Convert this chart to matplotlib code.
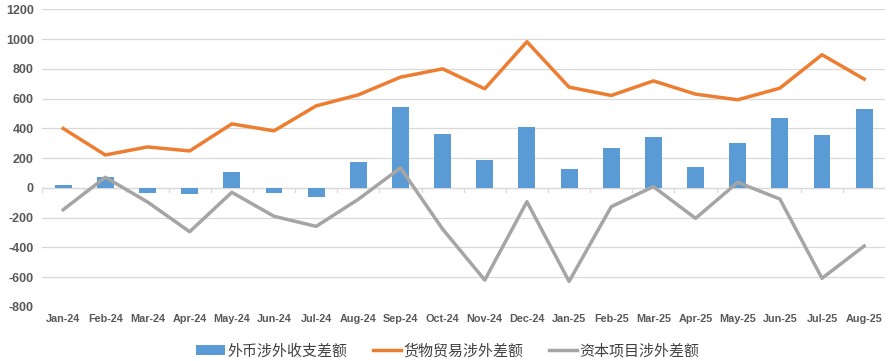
import matplotlib
matplotlib.use("Agg")
import matplotlib.pyplot as plt
import numpy as np

months = ["Jan-24", "Feb-24", "Mar-24", "Apr-24", "May-24", "Jun-24", "Jul-24",
          "Aug-24", "Sep-24", "Oct-24", "Nov-24", "Dec-24", "Jan-25", "Feb-25",
          "Mar-25", "Apr-25", "May-25", "Jun-25", "Jul-25", "Aug-25"]

# 外币涉外收支差额 (柱)
fx_balance = [22, 76, -32, -40, 108, -32, -58, 175, 545, 363,
              188, 410, 128, 269, 343, 141, 302, 470, 356, 531]
# 货物贸易涉外差额
goods_balance = [400, 222, 276, 249, 431, 384, 552, 626, 745, 801,
                 667, 983, 678, 622, 720, 631, 593, 671, 896, 732]
# 资本项目涉外差额
capital_balance = [-146, 72, -94, -294, -29, -190, -258, -76, 135, -276,
                   -619, -92, -628, -126, 9, -204, 38, -74, -607, -390]

yticks = list(range(-800, 1201, 200))

plt.rcParams['font.family'] = ['Noto Sans CJK SC', 'DejaVu Sans']

fig = plt.figure(figsize=(8.96, 3.61), dpi=100)
ax = fig.add_axes([0.047, 0.1496, 0.941, 0.8241])

x = np.arange(len(months))
bars = ax.bar(x, fx_balance, width=0.4, color='#5B9BD5', label='外币涉外收支差额', zorder=3)
l1, = ax.plot(x, goods_balance, color='#ED7D31', lw=2.5, label='货物贸易涉外差额', zorder=4)
l2, = ax.plot(x, capital_balance, color='#A5A5A5', lw=2.5, label='资本项目涉外差额', zorder=4)

ax.set_ylim(-800, 1200)
ax.set_xlim(-0.5, len(months) - 0.5)
ax.set_yticks(yticks)
ax.set_yticklabels([str(v) for v in yticks], fontsize=9, fontweight='bold',
                   color='#595959', family='Liberation Sans')
ax.set_xticks(x)
ax.set_xticklabels(months, fontsize=7.8, fontweight='bold', color='#595959',
                   family='Liberation Sans')
ax.tick_params(axis='both', length=0, pad=5)
ax.tick_params(axis='y', pad=6)

ax.grid(axis='y', color='#D9D9D9', lw=0.9, zorder=0)
ax.set_axisbelow(True)
for s in ax.spines.values():
    s.set_visible(False)

# zero axis with small category tick marks
ax.axhline(0, color='#D9D9D9', lw=0.9, zorder=1)
for b in np.arange(-0.5, len(months), 1.0):
    ax.plot([b, b], [0, -25], color='#D9D9D9', lw=0.9, zorder=1)

fig.legend(handles=[bars, l1, l2], loc='lower center', bbox_to_anchor=(0.5, -0.03),
           ncol=3, frameon=False, fontsize=10.8, handlelength=1.9, handletextpad=0.15,
           columnspacing=1.7, labelcolor='#404040')

fig.savefig('out.png', dpi=100)
